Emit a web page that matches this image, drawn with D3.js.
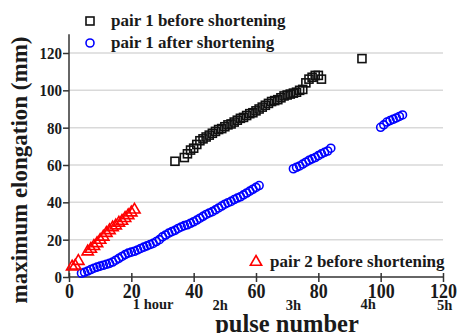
<!DOCTYPE html>
<html><head><meta charset="utf-8">
<script src="https://cdn.jsdelivr.net/npm/d3@7"></script>
<style>body{margin:0;background:#fff;overflow:hidden}svg{display:block}text{font-family:"Liberation Serif","Times New Roman",serif;font-weight:bold}</style>
</head><body><svg id="c" width="461" height="333"></svg>
<script>
const xTicks=[0,20,40,60,80,100,120];
const yTicks=[0,20,40,60,80,100,120];
const hourLabels=["1 hour","2h","3h","4h","5h"];
const hourPulses=[27,48.5,72,96,120.5];
const seriesNames=["pair 1 before shortening","pair 1 after shortening","pair 2 before shortening"];
const p1BeforeX=[34,37,38,39,40,41,42,43,44,45,46,47,48,49,50,51,52,53,54,55,56,57,58,59,60,61,62,63,64,65,66,67,68,69,70,71,72,73,74,75,76,77,78,79,80,81,94];
const p1BeforeY=[62,64,66,68,69,71,73,74,75,76,77,78,79,79.5,80.5,81.5,82,83,84,85,85.5,86.5,87.5,88,89,90,91,92,93,94,94.5,95,96,97,97.5,98,98.5,99,100,100.5,104,106,107,108,108,106,117];
const p1AfterX=[4,5,6,7,8,9,10,11,12,13,14,15,16,17,18,19,20,21,22,23,24,25,26,27,28,29,30,31,32,33,34,35,36,37,38,39,40,41,42,43,44,45,46,47,48,49,50,51,52,53,54,55,56,57,58,59,60,61,72,73,74,75,76,77,78,79,80,81,82,83,84,100,101,102,103,104,105,106,107];
const p1AfterY=[2,2.5,3.2,4,4.7,5.3,5.8,6.3,6.8,7.3,8,9,10,11,12,12.8,13.3,13.8,14.5,15.3,16,16.7,17.4,18,19,20,21.5,22.5,23.5,24.3,25,26,26.8,27.5,28,28.8,29.6,30.5,31.5,32.5,33.5,34.3,35,36,37,38,39,39.8,40.5,41.5,42.3,43,44,45,46,47,48,49,58,58.8,59.5,60.5,61.5,62.5,63.3,64,65,66,66.8,67.5,69,80.2,81.5,83,83.8,84.5,85.2,86,86.8];
const p2BeforeX=[1,2,3,6,7,8,9,10,11,12,13,14,15,16,17,18,19,20,21];
const p2BeforeY=[5.5,6,8.5,13.6,15,16.5,18,19.8,21.5,23.5,25,26.5,27.5,29,30,31.5,33,34.5,36];

const svg=d3.select("#c");
const x=d3.scaleLinear().domain([0,120]).range([69,443]);
const y=d3.scaleLinear().domain([0,130]).range([277,277-130*224/120]);
const axisCol="#333";
const txtCol="#1a1a1a";

svg.append("g").selectAll("line").data(yTicks.filter(d=>d>0)).join("line")
 .attr("x1",x(0)).attr("x2",x(120)).attr("y1",d=>y(d)).attr("y2",d=>y(d))
 .attr("stroke","#d9d9d9").attr("stroke-width",1.5);

const ya=svg.append("g").attr("transform",`translate(${x(0)},0)`)
 .call(d3.axisLeft(y).tickValues(yTicks).tickSize(6).tickPadding(2));
ya.attr("font-family",null).attr("font-size",null);
ya.select(".domain").attr("stroke",axisCol).attr("stroke-width",1.5).attr("d",`M0,${y(130)}V${y(0)}`);
ya.selectAll(".tick line").attr("stroke",axisCol).attr("stroke-width",1.5);
ya.selectAll(".tick text").attr("font-size",15).attr("fill",txtCol)
 .attr("x",-7).attr("y",0).attr("dy",null).attr("transform","translate(0,5.5) scale(1,1.15)");

const xa=svg.append("g").attr("transform",`translate(0,${y(0)})`)
 .call(d3.axisBottom(x).tickValues(xTicks).tickSize(5).tickPadding(3));
xa.attr("font-family",null).attr("font-size",null);
xa.select(".domain").attr("stroke",axisCol).attr("stroke-width",1.5).attr("d",`M${x(0)},0H${x(120)}`);
xa.selectAll(".tick line").attr("stroke",axisCol).attr("stroke-width",1.5).attr("y1",-4);
xa.selectAll(".tick text").attr("font-size",18).attr("fill",txtCol)
 .attr("y",0).attr("dy",null).attr("transform","translate(0,20.5) scale(1,1.2)");

const hourY=[308.5,309.5,309.5,308.5,309.5];
svg.append("g").selectAll("text").data(hourLabels).join("text")
 .attr("x",(d,i)=>x(hourPulses[i])).attr("y",(d,i)=>hourY[i])
 .attr("text-anchor","middle").attr("font-size",14.5).attr("fill",txtCol).text(d=>d);

svg.append("text").attr("x",287).attr("y",331.5).attr("text-anchor","middle")
 .attr("font-size",24.5).attr("fill",txtCol).text("pulse number");
svg.append("text").attr("transform","translate(27,170) rotate(-90)").attr("text-anchor","middle")
 .attr("font-size",23).attr("fill",txtCol).text("maximum elongation (mm)");

const s=8;
svg.append("g").selectAll("rect").data(p1BeforeX).join("rect")
 .attr("x",(d)=>x(d)-s/2).attr("y",(d,i)=>y(p1BeforeY[i])-s/2).attr("width",s).attr("height",s)
 .attr("fill","none").attr("stroke","#111").attr("stroke-width",1.6);
svg.append("g").selectAll("circle").data(p1AfterX).join("circle")
 .attr("cx",d=>x(d)).attr("cy",(d,i)=>y(p1AfterY[i])).attr("r",4)
 .attr("fill","none").attr("stroke","#0000ff").attr("stroke-width",1.6);
const tri=d3.symbol().type(d3.symbolTriangle).size(55);
svg.append("g").selectAll("path").data(p2BeforeX).join("path")
 .attr("d",tri).attr("transform",(d,i)=>`translate(${x(d)},${y(p2BeforeY[i])})`)
 .attr("fill","none").attr("stroke","#ff0000").attr("stroke-width",1.6);

const lg=svg.append("g");
lg.append("rect").attr("x",86).attr("y",17).attr("width",8).attr("height",8).attr("fill","none").attr("stroke","#111").attr("stroke-width",1.6);
lg.append("text").attr("x",111).attr("y",26).attr("font-size",17).attr("fill",txtCol).text(seriesNames[0]);
lg.append("circle").attr("cx",90).attr("cy",43).attr("r",4).attr("fill","none").attr("stroke","#0000ff").attr("stroke-width",1.6);
lg.append("text").attr("x",111).attr("y",48).attr("font-size",17).attr("fill",txtCol).text(seriesNames[1]);
lg.append("path").attr("d",tri).attr("transform","translate(256,262)").attr("fill","none").attr("stroke","#ff0000").attr("stroke-width",1.6);
lg.append("text").attr("x",270).attr("y",267).attr("font-size",17).attr("fill",txtCol).text(seriesNames[2]);
</script></body></html>
